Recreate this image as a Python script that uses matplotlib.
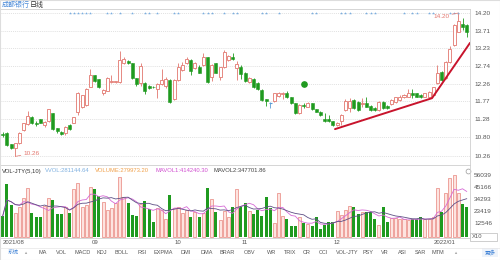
import numpy as np
import pandas as pd
import matplotlib
matplotlib.use('Agg')
import matplotlib.pyplot as plt
from matplotlib.patches import Rectangle

plt.rcParams['font.family'] = ['Liberation Sans', 'Noto Sans CJK SC', 'DejaVu Sans']

###############################################################################
## data
###############################################################################

opens = [10.87, 10.89, 10.59, 10.48, 10.62, 10.99, 11.14, 11.33, 11.18, 11.28,
         11.12, 11.22, 11.44, 11.03, 10.94, 10.89, 11.12, 11.19, 11.49, 11.63,
         11.67, 12.18, 12.49, 12.38, 12.00, 12.07, 12.30, 12.31, 12.31, 12.82,
         12.89, 12.82, 12.41, 12.27, 12.29, 12.19, 12.18, 12.10, 12.25, 12.19,
         12.36, 11.83, 12.36, 12.63, 12.82, 12.91, 12.68, 12.72, 12.77, 12.98,
         12.45, 12.82, 12.45, 12.71, 12.91, 13.00, 12.69, 12.72, 12.55, 12.31,
         12.40, 12.27, 12.09, 11.83, 11.73, 11.77, 11.92, 11.98, 12.00, 11.88,
         11.72, 11.44, 11.68, 11.63, 11.72, 11.55, 11.49, 11.30, 11.28, 11.22,
         11.12, 11.22, 11.54, 11.60, 11.81, 11.76, 11.70, 11.72, 11.65, 11.60,
         11.54, 11.76, 11.65, 11.70, 11.76, 11.81, 11.88, 11.90, 11.99, 11.99,
         11.95, 11.90, 11.90, 11.95, 12.27, 12.59, 12.41, 12.86, 13.32, 13.69,
         13.90, 13.87]
highs = [10.92, 10.92, 10.60, 10.64, 10.92, 11.19, 11.52, 11.36, 11.22, 11.30,
         11.23, 11.57, 11.46, 11.05, 10.96, 11.10, 11.14, 11.35, 12.03, 11.96,
         12.14, 12.65, 12.50, 12.40, 12.11, 12.43, 12.50, 12.33, 13.16, 13.00,
         12.92, 12.84, 12.42, 12.82, 12.30, 12.21, 12.20, 12.27, 12.65, 12.45,
         12.38, 12.38, 12.82, 12.86, 13.00, 12.93, 12.85, 12.78, 13.09, 13.00,
         12.79, 12.84, 12.73, 13.18, 13.05, 13.10, 12.88, 12.76, 12.58, 12.45,
         12.42, 12.31, 12.10, 11.85, 11.76, 12.01, 12.04, 12.04, 12.07, 11.90,
         11.74, 11.69, 11.74, 11.76, 11.74, 11.56, 11.50, 11.44, 11.40, 11.24,
         11.21, 11.42, 11.83, 11.86, 11.83, 11.78, 11.86, 11.90, 11.66, 11.62,
         11.78, 11.78, 11.66, 11.83, 11.90, 11.95, 11.97, 12.10, 12.10, 12.01,
         11.97, 12.01, 12.06, 12.18, 12.77, 12.61, 12.88, 13.28, 13.90, 14.20,
         14.05, 13.90]
lows = [10.80, 10.55, 10.45, 10.26, 10.60, 10.97, 11.12, 11.15, 11.10, 11.17,
        11.08, 11.20, 10.98, 10.89, 10.85, 10.86, 10.99, 11.17, 11.40, 11.58,
        11.65, 12.16, 12.31, 12.15, 11.94, 12.05, 12.28, 12.29, 12.29, 12.80,
        12.80, 12.39, 12.20, 12.19, 11.98, 12.11, 12.15, 11.86, 12.23, 12.13,
        11.73, 11.80, 12.34, 12.61, 12.80, 12.50, 12.66, 12.54, 12.75, 12.29,
        12.34, 12.54, 12.36, 12.69, 12.89, 12.92, 12.36, 12.40, 12.30, 12.28,
        12.15, 12.08, 11.79, 11.65, 11.58, 11.75, 11.90, 11.83, 11.86, 11.70,
        11.42, 11.42, 11.58, 11.61, 11.53, 11.47, 11.38, 11.20, 11.20, 11.10,
        11.10, 11.12, 11.52, 11.48, 11.56, 11.52, 11.63, 11.61, 11.52, 11.50,
        11.52, 11.56, 11.56, 11.68, 11.74, 11.79, 11.86, 11.88, 11.86, 11.88,
        11.86, 11.88, 11.88, 11.93, 12.25, 12.34, 12.39, 12.84, 13.30, 13.67,
        13.73, 13.55]
closes = [10.85, 10.57, 10.48, 10.62, 10.89, 11.17, 11.37, 11.19, 11.16, 11.19,
          11.21, 11.55, 11.00, 10.97, 10.88, 11.08, 11.01, 11.33, 12.01, 11.94,
          12.12, 12.49, 12.34, 12.18, 12.09, 12.41, 12.33, 12.32, 12.91, 12.93,
          12.84, 12.41, 12.25, 12.74, 12.07, 12.13, 12.17, 12.25, 12.36, 12.38,
          11.76, 12.36, 12.73, 12.77, 12.93, 12.62, 12.82, 12.56, 13.00, 12.31,
          12.77, 12.56, 12.71, 13.14, 13.02, 12.95, 12.80, 12.52, 12.34, 12.41,
          12.18, 12.10, 11.81, 11.77, 11.73, 11.99, 12.01, 12.00, 11.88, 11.72,
          11.44, 11.67, 11.64, 11.72, 11.55, 11.49, 11.40, 11.22, 11.22, 11.12,
          11.19, 11.40, 11.79, 11.77, 11.58, 11.54, 11.72, 11.63, 11.54, 11.54,
          11.76, 11.58, 11.58, 11.81, 11.88, 11.90, 11.95, 11.99, 11.95, 11.90,
          11.88, 11.99, 12.04, 12.16, 12.54, 12.36, 12.86, 13.20, 13.87, 13.99,
          13.82, 13.69]
volumes = [19000, 48000, 29000, 21400, 26900, 35000, 44100, 21400, 17800, 17800,
           28100, 35000, 33500, 20800, 20800, 26900, 21400, 43200, 48600, 27500,
           29000, 45600, 43200, 37100, 32000, 24500, 26000, 31100, 54100, 36500,
           30500, 19900, 19000, 29900, 32900, 25100, 13900, 26000, 24500, 16000,
           38100, 26000, 26900, 22000, 24500, 18400, 23000, 17800, 21400, 44100,
           34100, 23000, 15400, 23900, 17800, 26900, 43200, 27500, 31100, 24000,
           20500, 24500, 19000, 36500, 26000, 13000, 39600, 19000, 16000, 10000,
           10000, 18400, 12400, 11800, 10000, 17800, 6900, 10900, 13900, 13900,
           23900, 19900, 24500, 28100, 26900, 20800, 22300, 23000, 23000, 16000,
           10900, 26900, 13900, 16900, 16900, 16000, 16000, 15400, 16000, 16000,
           17800, 16000, 16000, 17800, 44100, 23000, 39600, 53200, 56200, 39600,
           29900, 27500]

month_pos = [0, 22, 42, 58, 80, 103]
month_labels = ['2021/08', '09', '10', '11', '12', '2022/01']
price_ticks = [14.20, 13.71, 13.23, 12.74, 12.26, 11.77, 11.28, 10.80, 10.26]
vol_ticks = [56039, 45166, 34293, 23419, 12546]
signal_idx = [16, 17, 18, 19, 20, 21, 25, 26, 28, 31, 34, 35, 37, 41, 42, 48, 49,
              50, 53, 55, 56, 62, 63, 66, 74, 75, 81, 82, 83, 87, 88, 89, 96, 98,
              99, 102, 103, 107, 108, 109]
trend_idx = [79.5, 102.7, 111.8]
trend_price = [11.01, 11.86, 13.38]
dot_idx, dot_price = 72, 12.25
low_idx, low_price = 3, 10.26
high_idx, high_price = 109, 14.20

legend_texts = ['VOL-JTY(5,10)', 'VVOL:281144.64', 'VOLUME:279973.20',
                'MAVOL1:414240.30', 'MAVOL2:347701.86']
tabs = ['系统', '▲', 'MA', 'VOL', 'MACD', 'KDJ', 'BOLL', 'RSI', 'EXPMA', 'DMI',
        'DMA', 'BRAR', 'OBV', 'WR', 'TRIX', 'CR', 'CCI', 'VOL-JTY', 'PSY', 'VR',
        'ASI', 'SAR', 'MTM', '▲', '更多']

###############################################################################
## layout / styles
###############################################################################

W, H = 500., 260.
RED = '#e2766e'
GREEN = '#1f9a1f'
BLUE = '#5b9bd5'
GRAY = '#555555'

def fy(px):
    return 1 - px / H

fig = plt.figure(figsize=(5, 2.6), dpi=100)
fig.patch.set_facecolor('white')

ax_p = fig.add_axes([0, fy(165), 470 / W, 156 / H])
ax_v = fig.add_axes([0, fy(238), 470 / W, 73 / H])

x = np.arange(len(opens))
o = np.array(opens); h = np.array(highs); l = np.array(lows); c = np.array(closes)
vol = np.array(volumes)
up = c > o
down = c < o
flat = c == o
blo = np.minimum(o, c)
bhi = np.maximum(o, c)
bw = 0.72

# price panel
ax_p.vlines(x[up], bhi[up], h[up], color=RED, lw=0.6, zorder=2)
ax_p.vlines(x[up], l[up], blo[up], color=RED, lw=0.6, zorder=2)
ax_p.bar(x[up], (bhi - blo)[up], bottom=blo[up], width=bw, facecolor='white',
         edgecolor=RED, lw=0.6, zorder=3)
ax_p.vlines(x[down], l[down], h[down], color=GREEN, lw=0.6, zorder=2)
ax_p.bar(x[down], (bhi - blo)[down], bottom=blo[down], width=bw, facecolor=GREEN,
         edgecolor=GREEN, lw=0.4, zorder=3)
ax_p.vlines(x[flat], l[flat], h[flat], color=BLUE, lw=0.6, zorder=2)
ax_p.hlines(o[flat], x[flat] - bw / 2, x[flat] + bw / 2, color=BLUE, lw=0.8, zorder=3)

ax_p.plot(trend_idx, trend_price, color='#c8142c', lw=1.4, zorder=4, solid_capstyle='round')
ax_p.plot([dot_idx], [dot_price], 'o', color=GREEN, ms=3.8, zorder=4)

ax_p.annotate('%.2f' % low_price, xy=(low_idx, low_price), xytext=(6, 2.2),
              textcoords='offset points', ha='left', va='center', fontsize=4.6,
              color=RED, arrowprops=dict(arrowstyle='-', color=RED, lw=0.5,
                                         shrinkA=0, shrinkB=0))
ax_p.annotate('%.2f' % high_price, xy=(high_idx, high_price), xytext=(-6.5, -2.4),
              textcoords='offset points', ha='right', va='center', fontsize=4.6,
              color=RED, arrowprops=dict(arrowstyle='-', color=RED, lw=0.5,
                                         shrinkA=0, shrinkB=0))

ax_p.plot(signal_idx, [0.974] * len(signal_idx), linestyle='none', marker='*',
          ms=2.2, color='#7aaee0', mew=0, transform=ax_p.get_xaxis_transform())

ax_p.set_xlim(-0.646, 111.79)
ax_p.set_ylim(10.024, 14.31)
ax_p.set_xticks([])
ax_p.yaxis.tick_right()
ax_p.set_yticks(price_ticks)
ax_p.set_yticklabels(['%.2f' % t for t in price_ticks])
ax_p.tick_params(axis='y', length=0, pad=3, labelsize=4.6, labelcolor=GRAY)
ax_p.yaxis.grid(True, color='#d6d6d6', ls=(0, (1.5, 1.5)), lw=0.5)
ax_p.set_axisbelow(True)

# volume panel
ax_v.bar(x[up], vol[up], width=bw, facecolor='#fde4e0', edgecolor='#e8857d', lw=0.5)
ax_v.bar(x[~up], vol[~up], width=bw, color=GREEN, lw=0)
ma5 = pd.Series(vol).rolling(5, min_periods=1).mean()
ma10 = pd.Series(vol).rolling(10, min_periods=1).mean()
ax_v.plot(x, ma5, color='#d66ad6', lw=0.6)
ax_v.plot(x, ma10, color='#5e4f85', lw=0.6)

ax_v.set_xlim(-0.646, 111.79)
ax_v.set_ylim(-906, 65232)
ax_v.yaxis.tick_right()
ax_v.set_yticks(vol_ticks)
ax_v.set_yticklabels([str(t) for t in vol_ticks])
ax_v.tick_params(axis='y', length=0, pad=3, labelsize=4.6, labelcolor=GRAY)
ax_v.set_xticks(month_pos)
ax_v.set_xticklabels(month_labels)
ax_v.tick_params(axis='x', length=0, pad=1.6, labelsize=4.3, labelcolor=GRAY)
for i, t in enumerate(ax_v.get_xticklabels()):
    if i == 0 or i == len(month_labels) - 1:
        t.set_ha('left')

leg_colors = ['#333333', '#7fb0e0', '#f0a04a', '#d050d0', '#444444']
leg_x = [2, 45, 95, 155, 213]
for txt, col, lx in zip(legend_texts, leg_colors, leg_x):
    ax_v.text(lx / 470., (238 - 171) / 73., txt, color=col, fontsize=4.2,
              va='center', ha='left', transform=ax_v.transAxes)
ax_v.plot([468 / 470.], [(238 - 171) / 73.], 'o', mfc='none', mec='#999999',
          ms=3.5, mew=0.5, transform=ax_v.transAxes, clip_on=False)

for ax in (ax_p, ax_v):
    for s in ax.spines.values():
        s.set_color('#cfcfcf')
        s.set_linewidth(0.6)

# X10 box
fig.patches.append(Rectangle((470 / W, fy(241)), 27 / W, 8 / H, transform=fig.transFigure,
                             facecolor='white', edgecolor='#bbbbbb', lw=0.5))
fig.text(472 / W, fy(237), 'X10', fontsize=4.2, color=GRAY, va='center')

# title
fig.text(2 / W, fy(5), '成都银行', color='#4a8ad8', fontsize=5.0, va='center')
fig.text(30 / W, fy(5), '日线', color='#333333', fontsize=5.0, va='center')

# indicator tabs
tab_x = [13, 25, 43, 61, 83, 102, 122, 142, 163, 186, 207, 227, 250, 272, 290,
         307, 323, 347, 368, 385, 402, 420, 438, 455, 490]
fig.lines.append(plt.Line2D([0, 1], [fy(247.5), fy(247.5)], transform=fig.transFigure,
                            color='#e6e6e6', lw=0.5))
for name, tx in zip(tabs, tab_x):
    col = GRAY
    fs = 4.0
    if name in ('系统', '更多'):
        col = '#3a7fd5'
    if name == '▲':
        col = '#aaaaaa'
        fs = 3.0
    fig.text(tx / W, fy(252.5), name, color=col, fontsize=fs, ha='center', va='center')
fig.patches.append(Rectangle((482 / W, fy(257)), 16 / W, 9 / H, transform=fig.transFigure,
                             facecolor='#eef3fa', edgecolor='none', zorder=-1))

# outer frame
fig.patches.append(Rectangle((0, 0), 1, 1, transform=fig.transFigure, fill=False,
                             edgecolor='#dddddd', lw=0.8))

fig.savefig('out.png', dpi=100)
